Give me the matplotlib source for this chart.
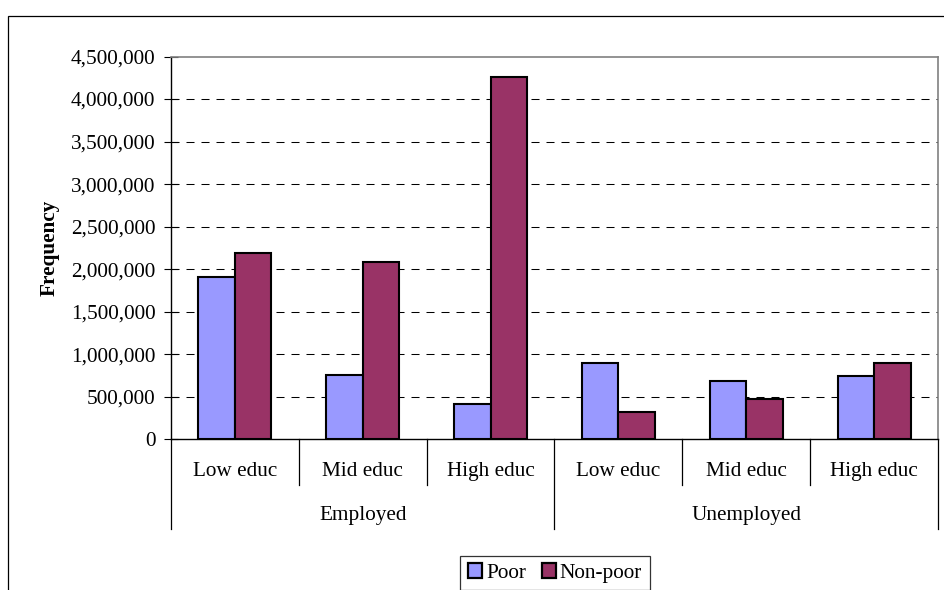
import matplotlib
matplotlib.use("Agg")
import matplotlib.pyplot as plt
from matplotlib.patches import Rectangle, Patch
from matplotlib.lines import Line2D
from matplotlib.ticker import FuncFormatter

# ---- data ----
groups = ["Employed", "Unemployed"]
levels = ["Low educ", "Mid educ", "High educ"]
series_names = ["Poor", "Non-poor"]
poor = [1908000, 751000, 414000, 892000, 681000, 744000]
nonpoor = [2187000, 2081000, 4262000, 322000, 478000, 892000]
yticks = [0, 500000, 1000000, 1500000, 2000000, 2500000, 3000000,
          3500000, 4000000, 4500000]

colors = ["#9999FF", "#993366"]

plt.rcParams['font.family'] = ['Liberation Serif', 'DejaVu Serif']
FS = 15.3

W, H = 945, 590
fig = plt.figure(figsize=(W / 100, H / 100), dpi=100)

# plot-area in pixel coordinates
px_left, px_right, px_top, px_bottom = 171, 938, 56.5, 439.3
ax = fig.add_axes([px_left / W, 1 - px_bottom / H,
                   (px_right - px_left) / W, (px_bottom - px_top) / H])

ncat = len(poor)
bw = 1 / 3.5
xs = list(range(ncat))
ax.bar([x - bw / 2 for x in xs], poor, width=bw, color=colors[0],
       edgecolor="black", linewidth=1.5, zorder=3)
ax.bar([x + bw / 2 for x in xs], nonpoor, width=bw, color=colors[1],
       edgecolor="black", linewidth=1.5, zorder=3)

ax.set_xlim(-0.5, ncat - 0.5)
ax.set_ylim(yticks[0], yticks[-1])
ax.set_yticks(yticks)
ax.yaxis.set_major_formatter(FuncFormatter(lambda v, p: f"{int(v):,}"))
ax.tick_params(axis="y", direction="inout", length=9.4, width=0.8,
               pad=6.5, labelsize=FS, colors="black")
ax.set_xticks([])

for t in yticks[1:-1]:
    ax.axhline(t, color="black", linewidth=0.75,
               linestyle=(0, (7.7, 6.7)), zorder=1)

for s in ["left", "bottom"]:
    ax.spines[s].set_color("black")
    ax.spines[s].set_linewidth(1.0)
for s in ["top", "right"]:
    ax.spines[s].set_color("#808080")
    ax.spines[s].set_linewidth(1.2)

ax.set_ylabel("Frequency", fontsize=FS, fontweight="bold", labelpad=8)

# multi-level category axis
ph = px_bottom - px_top
def ay(px):
    return (px_bottom - px) / ph

tr = ax.get_xaxis_transform()
all_levels = [lv for g in groups for lv in levels]
for i, lv in enumerate(all_levels):
    ax.text(i, ay(471.5), lv, transform=tr, ha="center", va="center",
            fontsize=FS, clip_on=False)
n_lv = len(levels)
for gi, g in enumerate(groups):
    center = gi * n_lv + (n_lv - 1) / 2
    ax.text(center, ay(515.5), g, transform=tr, ha="center", va="center",
            fontsize=FS, clip_on=False)
for b in range(ncat + 1):
    xb = b - 0.5
    y_end = ay(529) if b % n_lv == 0 else ay(485)
    ax.add_line(Line2D([xb, xb], [0, y_end], transform=tr, color="black",
                       linewidth=0.9, clip_on=False))

# legend
handles = [Patch(facecolor=c, edgecolor="black", linewidth=1.6) for c in colors]
leg = fig.legend(handles, series_names, loc="upper center",
                 bbox_to_anchor=(555 / W, 1 - 556 / H), ncol=2,
                 prop={"family": ["Liberation Serif", "DejaVu Serif"], "size": FS},
                 frameon=True, fancybox=False, shadow=False,
                 handlelength=0.65, handleheight=0.65, handletextpad=0.2,
                 columnspacing=0.75, borderpad=0.35, borderaxespad=0)
leg.get_frame().set_edgecolor("black")
leg.get_frame().set_linewidth(0.9)

# outer chart border (extends past the right/bottom edge)
fig.patches.append(Rectangle((8 / W, -0.1), 1.2, (1 - 16 / H) + 0.1,
                             transform=fig.transFigure, fill=False,
                             edgecolor="black", linewidth=0.9))

fig.savefig("out.png", dpi=100)
